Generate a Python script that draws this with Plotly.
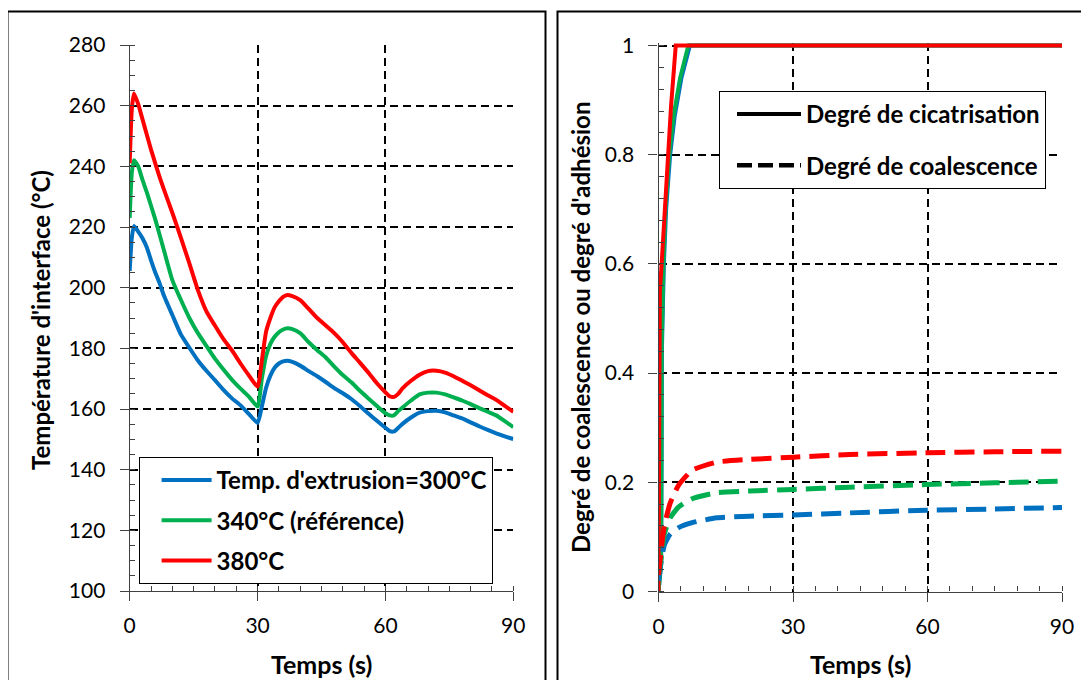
import plotly.graph_objects as go

# ---------------- data ----------------
# Left panel: interface temperature vs time
time_T = [0, 0.5, 1, 2, 3, 4, 5, 6, 7, 8, 10, 12, 14, 16, 18, 20, 22, 24, 26, 28, 30,
          31, 32, 33, 34, 35, 36, 37, 38, 40, 42, 44, 46, 48, 50, 52, 54, 56, 58, 60,
          61, 62, 63, 64, 66, 68, 70, 72, 74, 76, 78, 80, 82, 84, 86, 88, 90]
temp_300 = [205.5, 216.5, 220.3, 218.5, 216.3, 213.3, 209.0, 205.0, 201.5, 197.5, 191.0, 184.6, 180.2, 176.0, 172.6, 169.5, 166.3, 163.5, 161.2, 158.3, 155.4,
            160.8, 167.0, 171.0, 173.6, 175.0, 175.7, 175.9, 175.6, 174.3, 172.5, 170.8, 168.9, 166.9, 165.2, 163.3, 161.0, 158.5, 156.1, 153.8,
            152.7, 152.6, 153.8, 155.1, 157.2, 158.8, 159.3, 159.4, 158.9, 157.9, 156.9, 155.6, 154.3, 153.1, 152.0, 151.0, 150.1]
temp_340 = [223.0, 238.0, 242.0, 240.0, 235.5, 231.5, 227.0, 222.5, 217.5, 212.5, 202.5, 196.0, 190.0, 185.0, 180.8, 176.6, 173.0, 169.6, 166.7, 164.0, 160.8,
            170.0, 177.5, 181.5, 183.8, 185.3, 186.2, 186.6, 186.4, 185.0, 182.0, 179.4, 177.0, 174.0, 171.2, 168.8, 166.0, 163.5, 161.0, 158.6,
            157.9, 157.9, 159.3, 160.5, 162.8, 164.8, 165.4, 165.4, 164.8, 163.8, 162.8, 161.6, 160.3, 159.1, 157.9, 156.0, 154.0]
temp_380 = [241.0, 259.0, 264.0, 260.5, 255.5, 250.5, 245.5, 241.0, 236.5, 232.5, 224.7, 216.5, 208.0, 199.2, 192.2, 187.5, 183.0, 179.3, 175.0, 171.0, 167.3,
            176.0, 185.5, 190.0, 193.5, 195.5, 197.0, 197.6, 197.3, 195.9, 193.0, 190.0, 187.5, 185.0, 182.0, 178.5, 175.3, 172.0, 168.5, 165.5,
            164.2, 164.0, 165.0, 166.8, 169.3, 171.3, 172.5, 172.6, 172.0, 170.8, 169.3, 167.8, 166.2, 164.5, 163.0, 161.0, 159.1]

# Right panel: healing degree (solid) and coalescence degree (dashed)
heal_t_300 = [0, 0.6, 0.7, 0.78, 1.2, 1.7, 2.6, 3.6, 5.1, 7.0, 90]
heal_300 = [0, 0.05, 0.25, 0.45, 0.6, 0.7, 0.8, 0.87, 0.94, 1.0, 1.0]
heal_t_340 = [0, 0.55, 0.65, 0.72, 1.1, 1.55, 2.4, 3.35, 4.8, 6.65, 90]
heal_340 = [0, 0.05, 0.25, 0.45, 0.6, 0.7, 0.8, 0.87, 0.94, 1.0, 1.0]
heal_t_380 = [0, 0.05, 0.1, 0.3, 0.7, 1.45, 2.05, 2.8, 3.85, 90]
heal_380 = [0, 0.3, 0.5, 0.55, 0.6, 0.706, 0.8, 0.889, 1.0, 1.0]

coal_t = [0, 0.5, 1.3, 2.6, 4.5, 7.5, 13, 20.4, 30.1, 42.7, 59.8, 75, 90]
coal_300 = [0.02, 0.05, 0.085, 0.105, 0.117, 0.126, 0.135, 0.138, 0.140, 0.144, 0.149, 0.151, 0.154]
coal_340 = [0.03, 0.055, 0.105, 0.135, 0.155, 0.170, 0.181, 0.184, 0.187, 0.191, 0.196, 0.199, 0.202]
coal_380 = [0.03, 0.07, 0.12, 0.162, 0.195, 0.222, 0.237, 0.242, 0.246, 0.251, 0.254, 0.256, 0.257]

names_left = ["Temp. d'extrusion=300°C", "340°C (référence)", "380°C"]
names_right = ["Degré de cicatrisation", "Degré de coalescence"]
x_ticks = [0, 30, 60, 90]

# ---------------- style ----------------
BLUE, GREEN, RED = "#0070C0", "#00B050", "#FF0000"
FONT = "Lato"
OFF = 8                      # page body margin of the html page
W, H = 1089 - OFF, 680 - OFF


def fx(px):
    return (px - OFF) / W


def fy(py):
    return 1 - (py - OFF) / H


fig = go.Figure()

for name, vals, col in zip(names_left, [temp_300, temp_340, temp_380], [BLUE, GREEN, RED]):
    fig.add_trace(go.Scatter(x=time_T, y=vals, mode="lines", name=name,
                             line=dict(color=col, width=4, shape="spline", smoothing=0.5),
                             xaxis="x", yaxis="y", legend="legend", legendgroup=name))

for tt, vals, col in zip([heal_t_300, heal_t_340, heal_t_380], [heal_300, heal_340, heal_380], [BLUE, GREEN, RED]):
    fig.add_trace(go.Scatter(x=tt, y=vals, mode="lines", showlegend=False,
                             line=dict(color=col, width=4), xaxis="x2", yaxis="y2"))
for vals, col in zip([coal_300, coal_340, coal_380], [BLUE, GREEN, RED]):
    fig.add_trace(go.Scatter(x=coal_t, y=vals, mode="lines", showlegend=False,
                             line=dict(color=col, width=5, dash="20px,9px", shape="spline", smoothing=0.5),
                             xaxis="x2", yaxis="y2"))

# legend-only entries for the right panel
fig.add_trace(go.Scatter(x=[None], y=[None], mode="lines", name=names_right[0],
                         line=dict(color="black", width=4), xaxis="x2", yaxis="y2",
                         legend="legend2", legendgroup="a"))
fig.add_trace(go.Scatter(x=[None], y=[None], mode="lines", name=names_right[1],
                         line=dict(color="black", width=4.5, dash="15px,6px"), xaxis="x2", yaxis="y2",
                         legend="legend2", legendgroup="b"))

tickfont = dict(family=FONT, size=21, color="black")
common_x = dict(range=[0, 90], tickvals=x_ticks, ticks="outside", ticklen=9, tickwidth=1.3,
                tickcolor="#404040", showline=True, linecolor="#404040", linewidth=1.3,
                showgrid=True, gridcolor="black", gridwidth=1.5, griddash="8px,5px",
                zeroline=False, tickfont=tickfont, ticklabelstandoff=7, automargin=False,
                minor=dict(dtick=5, ticks="inside", ticklen=5, tickcolor="#404040", tickwidth=1.3, showgrid=False))
common_y = dict(ticks="outside", ticklen=9, tickwidth=1.3, tickcolor="#404040",
                showline=True, linecolor="#404040", linewidth=1.3, automargin=False,
                showgrid=True, gridcolor="black", gridwidth=1.5, griddash="8px,5px",
                zeroline=False, tickfont=tickfont, ticklabelstandoff=10)

title_font = dict(family=FONT, color="black", weight="bold")

fig.update_layout(
    width=W, height=H,
    margin=dict(l=0, r=0, t=0, b=0, pad=0, autoexpand=False),
    paper_bgcolor="white", plot_bgcolor="white",
    showlegend=True,
    xaxis=dict(domain=[fx(129.7), fx(513.3)], anchor="y", **common_x),
    yaxis=dict(domain=[fy(591), fy(45)], anchor="x", range=[100, 280], dtick=20,
               minor=dict(dtick=5, ticks="inside", ticklen=5, tickcolor="#404040", tickwidth=1.3, showgrid=False),
               **common_y),
    xaxis2=dict(domain=[fx(658.5), fx(1062)], anchor="y2", **common_x),
    yaxis2=dict(domain=[fy(591.5), fy(42.8)], anchor="x2", range=[0, 1.005], tickvals=[0, 0.2, 0.4, 0.6, 0.8, 1],
                ticktext=["0", "0.2", "0.4", "0.6", "0.8", "1"],
                minor=dict(dtick=0.04, ticks="inside", ticklen=5, tickcolor="#404040", tickwidth=1.3, showgrid=False),
                **common_y),
    legend=dict(x=fx(138.6), y=fy(457), xanchor="left", yanchor="top",
                bgcolor="white", bordercolor="black", borderwidth=1,
                font=dict(family=FONT, size=24, color="black", weight="bold"),
                traceorder="grouped", tracegroupgap=6, itemwidth=50, indentation=17),
    legend2=dict(x=fx(719), y=fy(91), xanchor="left", yanchor="top",
                 bgcolor="white", bordercolor="black", borderwidth=1,
                 font=dict(family=FONT, size=24, color="black", weight="bold"),
                 traceorder="grouped", tracegroupgap=17, itemwidth=64, indentation=12),
    shapes=[
        dict(type="rect", xref="paper", yref="paper", x0=fx(7.5), x1=fx(545.5), y0=-0.05, y1=fy(11.5),
             line=dict(color="black", width=2), fillcolor="rgba(0,0,0,0)", layer="above"),
        dict(type="rect", xref="paper", yref="paper", x0=fx(557.5), x1=1.05, y0=-0.05, y1=fy(11.5),
             line=dict(color="black", width=2), fillcolor="rgba(0,0,0,0)", layer="above"),
    ],
    annotations=[
        dict(text="Température d'interface (°C)", xref="paper", yref="paper", x=fx(40), y=fy(320),
             xanchor="center", yanchor="middle",
             textangle=-90, showarrow=False, font=dict(size=24, **title_font)),
        dict(text="Degré de coalescence ou degré d'adhésion", xref="paper", yref="paper", x=fx(580), y=fy(328),
             xanchor="center", yanchor="middle",
             textangle=-90, showarrow=False, font=dict(size=24, **title_font)),
        dict(text="Temps (s)", xref="paper", yref="paper", x=fx(321), y=fy(664),
             xanchor="center", yanchor="middle", showarrow=False, font=dict(size=25, **title_font)),
        dict(text="Temps (s)", xref="paper", yref="paper", x=fx(860), y=fy(664),
             xanchor="center", yanchor="middle", showarrow=False, font=dict(size=25, **title_font)),
    ],
)

fig.write_html("out.html")
